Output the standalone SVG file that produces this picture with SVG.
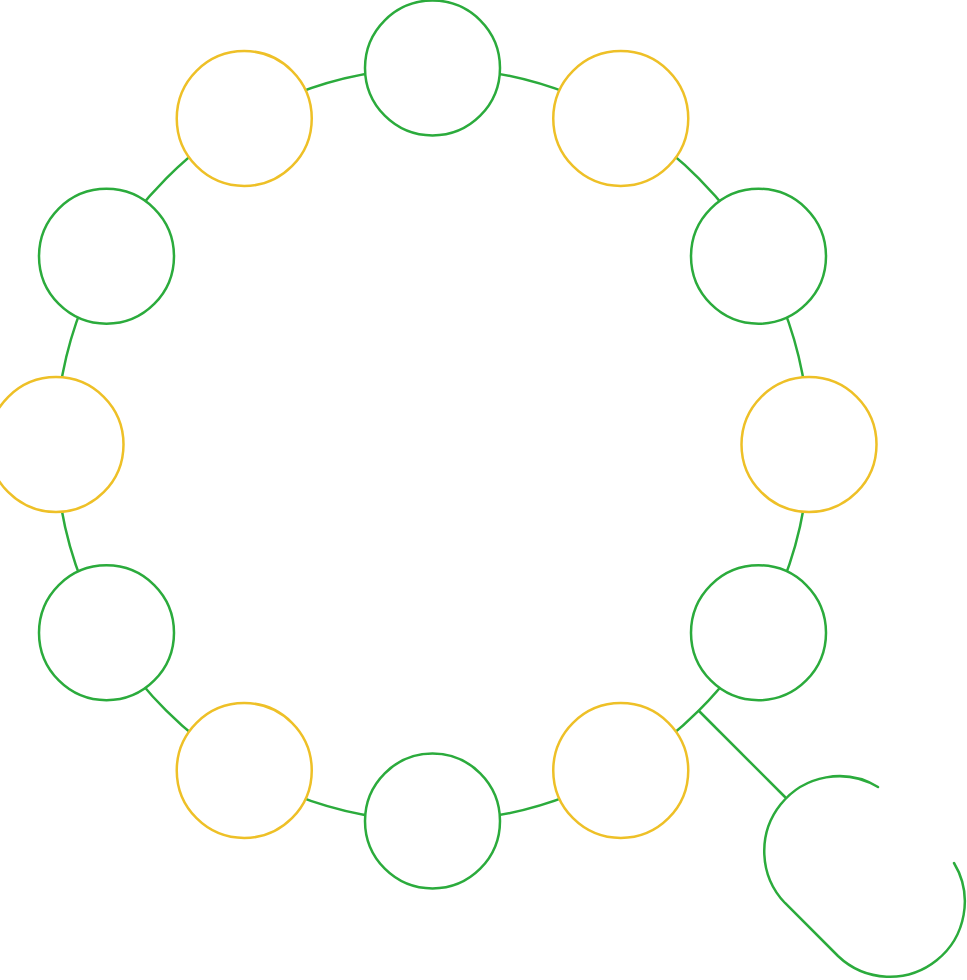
<svg xmlns="http://www.w3.org/2000/svg" width="967" height="980" viewBox="0 0 967 980">
<style>
.g{fill:#fff;stroke:#2bab3c;stroke-width:2.5}
.y{fill:#fff;stroke:#eec027;stroke-width:2.5}
.c{fill:none;stroke:#2bab3c;stroke-width:2.5;stroke-linecap:round}
</style>
<rect width="967" height="980" fill="#fff"/>
<g id="connectors">
<circle class="c" cx="432.5" cy="444.5" r="376.5"/>
<line class="c" x1="699" y1="711" x2="785" y2="797"/>
<path class="c" d="M878,787 A75,75 0 0 0 785,903 L838,956 A75,75 0 0 0 954,863"/>
</g>
<g id="n0"><circle class="g" cx="432.5" cy="68" r="67.5"/></g>
<g id="n1"><circle class="y" cx="620.75" cy="118.5" r="67.5"/></g>
<g id="n2"><circle class="g" cx="758.5" cy="256.25" r="67.5"/></g>
<g id="n3"><circle class="y" cx="809" cy="444.5" r="67.5"/></g>
<g id="n4"><circle class="g" cx="758.5" cy="632.75" r="67.5"/></g>
<g id="n5"><circle class="y" cx="620.75" cy="770.5" r="67.5"/></g>
<g id="n6"><circle class="g" cx="432.5" cy="821" r="67.5"/></g>
<g id="n7"><circle class="y" cx="244.25" cy="770.5" r="67.5"/></g>
<g id="n8"><circle class="g" cx="106.5" cy="632.75" r="67.5"/></g>
<g id="n9"><circle class="y" cx="56" cy="444.5" r="67.5"/></g>
<g id="n10"><circle class="g" cx="106.5" cy="256.25" r="67.5"/></g>
<g id="n11"><circle class="y" cx="244.25" cy="118.5" r="67.5"/></g>
</svg>
